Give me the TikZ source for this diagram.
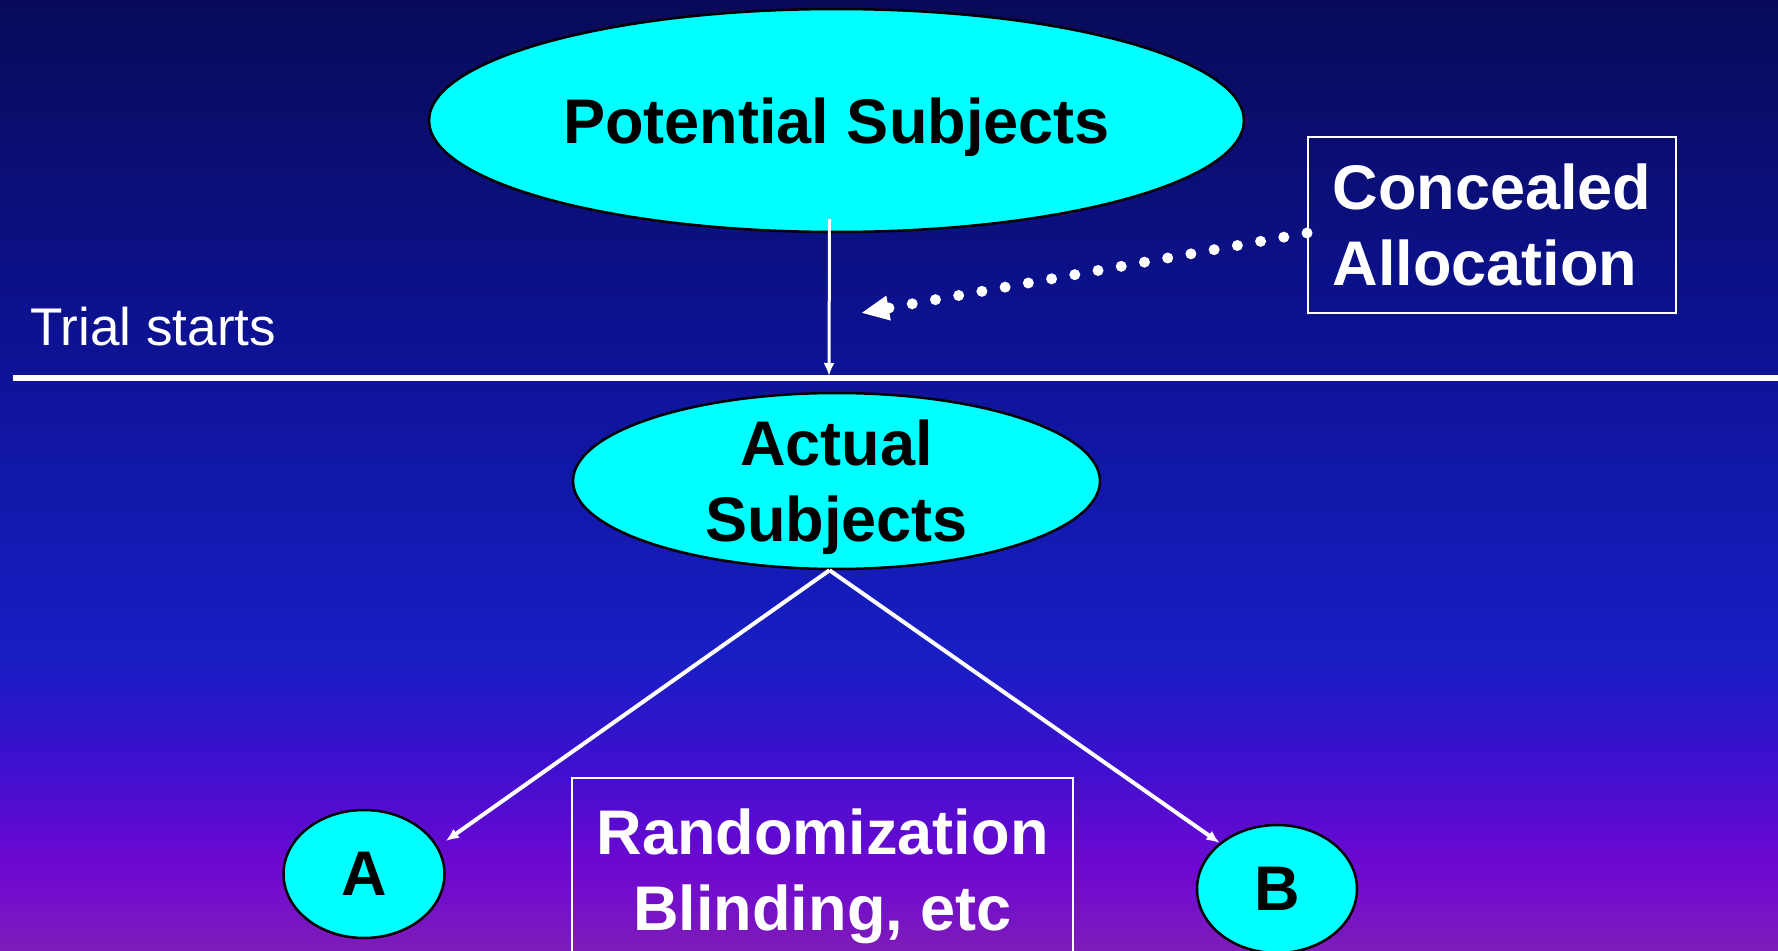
\documentclass[tikz,border=0pt]{standalone}
\usepackage{fontspec}
\setmainfont{Liberation Sans}
\usetikzlibrary{shapes.geometric,arrows.meta,positioning}

\definecolor{bgtop}{RGB}{8,10,88}
\definecolor{bgnavy}{RGB}{12,18,145}
\definecolor{bgblue}{RGB}{24,30,196}
\definecolor{bgviolet}{RGB}{60,16,205}
\definecolor{bgpurple}{RGB}{110,8,210}
\definecolor{bgbot}{RGB}{125,28,185}
\definecolor{subjcyan}{RGB}{0,255,255}
% the middle 50bp of the shading is what covers the slide
\pgfdeclareverticalshading{slidebg}{100bp}{color(0bp)=(bgbot); color(25bp)=(bgbot); color(29.37bp)=(bgpurple); color(35bp)=(bgviolet); color(40.42bp)=(bgblue); color(57.63bp)=(bgnavy); color(75bp)=(bgtop); color(100bp)=(bgtop)}

\newcommand{\subjfont}{\fontsize{35.9}{43.3}\selectfont\bfseries}
\newcommand{\notefont}{\fontsize{30.2}{36}\selectfont}

\begin{document}
\begin{tikzpicture}[
  x=0.02cm, y=-0.02cm,
  subj/.style={ellipse, draw=black, line width=0.05cm, fill=subjcyan, inner sep=0pt, text depth=0pt, font=\subjfont, align=center},
  wbox/.style={draw=white, line width=0.04cm, text=white, inner sep=0pt, font=\subjfont},
  wline/.style={draw=white, line width=0.08cm},
  >={Latex[length=0.26cm,width=0.22cm]}
]
\useasboundingbox (0,0) rectangle (1778,950);
\clip (0,0) rectangle (1778,950);
\fill[shading=slidebg] (0,0) rectangle (1778,950);

% --- before the trial ---
\node[subj, minimum width=16.3cm, minimum height=4.46cm] (pot) at (836.5,120.5) {Potential Subjects};
\node[wbox, minimum width=7.36cm, minimum height=3.52cm, align=left] (conc) at (1492,225) {Concealed\\Allocation};
\node[text=white, font=\notefont, inner sep=0pt, anchor=base west] (trial) at (30,345) {Trial starts};
\coordinate (hint) at (861,313);
\coordinate (drop) at (829,376);
\coordinate (rule west) at (13,378);
\coordinate (rule east) at (1778,378);

\draw[wline, line width=0.11cm] (rule west) -- (rule east);
\draw[wline, line width=0.06cm, ->] ([xshift=-0.14cm,yshift=0.28cm]pot.south) -- (drop);
\draw[white, line width=0.22cm, line cap=round, dash pattern=on 0pt off 0.472cm,
  -{Triangle[length=0.56cm,width=0.46cm]}] ([yshift=-0.16cm]conc.west) -- (hint);

% --- after the trial starts ---
\node[subj, minimum width=10.54cm, minimum height=3.52cm] (act) at (836.5,481) {Actual\\Subjects};
\node[subj, minimum width=3.22cm, minimum height=2.56cm] (a) at (364,874) {A};
\node[subj, minimum width=3.2cm, minimum height=2.56cm] (b) at (1277,889) {B};
\node[wbox, minimum width=10.02cm, inner ysep=0.62cm, align=center, anchor=north] (rand) at (822.5,777) {Randomization\\Blinding, etc};

\draw[wline, ->] ([xshift=-0.14cm]act.south) -- ([yshift=0.66cm]a.east);
\draw[wline, ->] ([xshift=-0.14cm]act.south) -- (b.north west);

\end{tikzpicture}
\end{document}
